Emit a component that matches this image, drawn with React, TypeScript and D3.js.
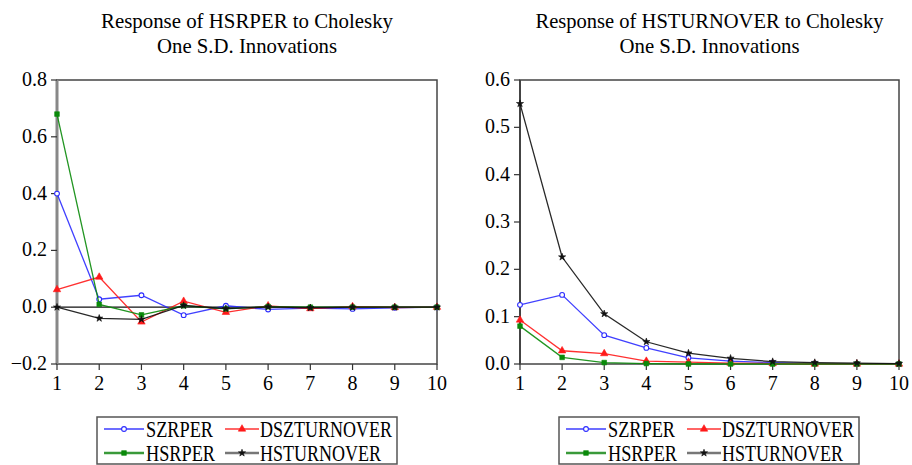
import React from 'react';
import * as d3 from 'd3';

// Periods on the x axis
const periods = [1, 2, 3, 4, 5, 6, 7, 8, 9, 10];

// Response of HSRPER
const leftSzrper = [0.4, 0.028, 0.042, -0.028, 0.005, -0.008, -0.003, -0.006, -0.002, 0.0];
const leftDszturnover = [0.062, 0.106, -0.052, 0.021, -0.018, 0.005, -0.005, 0.002, -0.001, 0.0];
const leftHsrper = [0.68, 0.01, -0.027, 0.005, -0.006, 0.002, 0.0, 0.0, 0.0, 0.0];
const leftHsturnover = [0.0, -0.039, -0.043, 0.006, -0.005, 0.001, -0.002, 0.0, 0.0, 0.0];

// Response of HSTURNOVER
const rightSzrper = [0.125, 0.146, 0.061, 0.034, 0.013, 0.006, 0.003, 0.001, 0.0, 0.0];
const rightDszturnover = [0.093, 0.028, 0.022, 0.006, 0.004, 0.002, 0.001, 0.0, 0.0, 0.0];
const rightHsrper = [0.08, 0.014, 0.003, 0.001, 0.0, 0.0, 0.0, 0.0, 0.0, 0.0];
const rightHsturnover = [0.55, 0.226, 0.106, 0.047, 0.023, 0.012, 0.005, 0.003, 0.002, 0.001];

const leftTicks = [-0.2, 0.0, 0.2, 0.4, 0.6, 0.8];
const rightTicks = [0.0, 0.1, 0.2, 0.3, 0.4, 0.5, 0.6];

const seriesNames = ['SZRPER', 'DSZTURNOVER', 'HSRPER', 'HSTURNOVER'];
const colors = ['#2b2bff', '#ff1a1a', '#0a8a0a', '#111111'];
const legendLine = ['#3d3dff', '#ff3333', '#3a9a3a', '#777777'];
const symbols = [d3.symbolCircle, d3.symbolTriangle, d3.symbolSquare, d3.symbolStar];
const legendWidths = [67, 132, 69, 121];

const FONT = '"Liberation Serif", "Times New Roman", serif';

type PanelProps = {
  left: number;
  right: number;
  top: number;
  bottom: number;
  domain: [number, number];
  ticks: number[];
  series: number[][];
  title: string;
  titleWidth: number;
  axisColor: string;
  axisWidth: number;
};

const Marker = ({ i, x, y }: { i: number; x: number; y: number }) => {
  const sizes = [18, 24, 22, 16];
  const path = d3.symbol(symbols[i], sizes[i])() || '';
  const hollow = i === 0;
  return (
    <path
      d={path}
      transform={`translate(${x},${y})`}
      fill={hollow ? '#fff' : colors[i]}
      stroke={colors[i]}
      strokeWidth={hollow ? 1.1 : 0.6}
    />
  );
};

const Panel = (p: PanelProps) => {
  const x = d3.scaleLinear().domain([1, 10]).range([p.left, p.right]);
  const y = d3.scaleLinear().domain(p.domain).range([p.bottom, p.top]);
  const fmt = d3.format('.1f');
  const line = d3
    .line<number>()
    .x((_, i) => x(periods[i]))
    .y((d) => y(d));
  const cx = (p.left + p.right) / 2;

  return (
    <g>
      <text x={cx} y={28} textAnchor="middle" fontFamily={FONT} fontSize={21} textLength={p.titleWidth} lengthAdjust="spacingAndGlyphs">
        {p.title}
      </text>
      <text x={cx} y={53} textAnchor="middle" fontFamily={FONT} fontSize={21} textLength={180} lengthAdjust="spacingAndGlyphs">
        One S.D. Innovations
      </text>

      {/* frame */}
      <rect x={p.left} y={p.top} width={p.right - p.left} height={p.bottom - p.top} fill="none" stroke="#444" strokeWidth={1.5} />
      <line x1={p.left} x2={p.left} y1={p.top} y2={p.bottom} stroke={p.axisColor} strokeWidth={p.axisWidth} />

      {/* zero line */}
      {p.domain[0] < 0 && (
        <line x1={p.left} x2={p.right} y1={y(0)} y2={y(0)} stroke="#111" strokeWidth={1.2} />
      )}

      {/* y ticks */}
      {p.ticks.map((t) => (
        <g key={t}>
          <line x1={p.left - 6} x2={p.left} y1={y(t)} y2={y(t)} stroke="#333" strokeWidth={1.2} />
          <text x={p.left - 10} y={y(t) + 6} textAnchor="end" fontFamily={FONT} fontSize={20}>
            {fmt(t)}
          </text>
        </g>
      ))}

      {/* x ticks */}
      {periods.map((t) => (
        <g key={t}>
          <line x1={x(t)} x2={x(t)} y1={p.bottom} y2={p.bottom + 6} stroke="#333" strokeWidth={1.2} />
          <text x={x(t)} y={p.bottom + 26} textAnchor="middle" fontFamily={FONT} fontSize={20}>
            {t}
          </text>
        </g>
      ))}

      {/* series */}
      {p.series.map((s, i) => (
        <g key={i}>
          <path d={line(s) || ''} fill="none" stroke={colors[i]} strokeWidth={1.3} opacity={0.9} />
          {s.map((v, j) => (
            <Marker key={j} i={i} x={x(periods[j])} y={y(v)} />
          ))}
        </g>
      ))}
    </g>
  );
};

const Legend = ({ left }: { left: number }) => {
  const top = 417;
  const rows = [429, 453];
  const cols = [
    { x1: left + 7, x2: left + 47, text: left + 49 },
    { x1: left + 128, x2: left + 162, text: left + 163 },
  ];
  return (
    <g>
      <rect x={left} y={top} width={300} height={47} fill="#fff" stroke="#555" strokeWidth={1.5} />
      {seriesNames.map((name, i) => {
        const c = cols[i % 2];
        const ry = rows[Math.floor(i / 2)];
        return (
          <g key={name}>
            <line x1={c.x1} x2={c.x2} y1={ry} y2={ry} stroke={legendLine[i]} strokeWidth={i >= 2 ? 2.4 : 1.4} />
            <Marker i={i} x={(c.x1 + c.x2) / 2} y={ry} />
            <text x={c.text} y={ry + 8} fontFamily={FONT} fontSize={23} textLength={legendWidths[i]} lengthAdjust="spacingAndGlyphs">
              {name}
            </text>
          </g>
        );
      })}
    </g>
  );
};

export default function App() {
  return (
    <svg width={912} height={465} style={{ position: 'absolute', left: 0, top: 0, background: '#fff' }}>
      <Panel
        left={57}
        right={437}
        top={80}
        bottom={364}
        domain={[-0.2, 0.8]}
        ticks={leftTicks}
        series={[leftSzrper, leftDszturnover, leftHsrper, leftHsturnover]}
        title="Response of HSRPER to Cholesky"
        titleWidth={292}
        axisColor="#888"
        axisWidth={3}
      />
      <Panel
        left={520}
        right={899}
        top={80}
        bottom={364}
        domain={[0, 0.6]}
        ticks={rightTicks}
        series={[rightSzrper, rightDszturnover, rightHsrper, rightHsturnover]}
        title="Response of HSTURNOVER to Cholesky"
        titleWidth={348}
        axisColor="#444"
        axisWidth={2}
      />
      <Legend left={97} />
      <Legend left={559} />
    </svg>
  );
}
